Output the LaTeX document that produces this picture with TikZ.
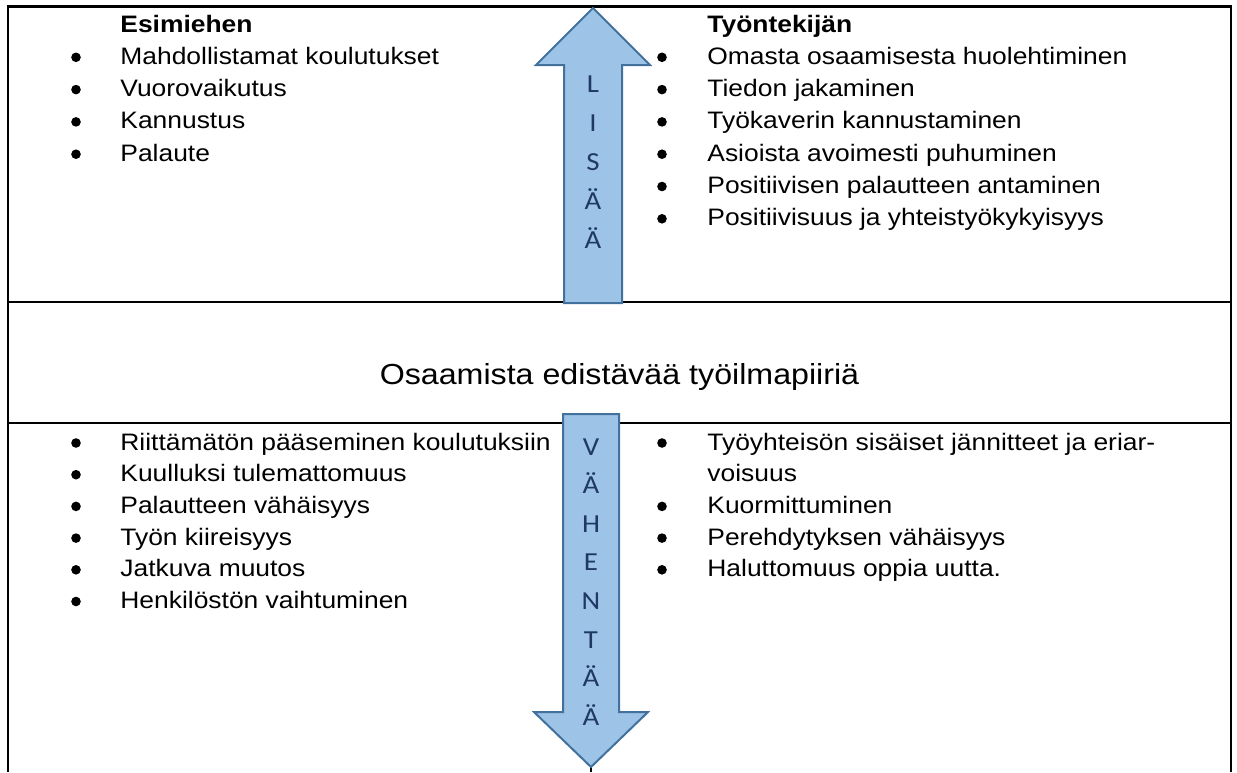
\documentclass[tikz,border=0pt]{standalone}
\usepackage{fontspec}
\setmainfont{Liberation Sans}[FakeStretch=1.11]
\newfontfamily\arrowfont{Carlito}[FakeStretch=1.11]
\usetikzlibrary{positioning}
\definecolor{arrowfill}{HTML}{9DC3E6}
\definecolor{arrowline}{HTML}{41719C}
\definecolor{lettercol}{HTML}{1F3864}
\tikzset{
  item/.style={anchor=base west, inner sep=0pt, font=\fontsize{11.9}{14}\selectfont},
  head/.style={item, font=\fontsize{11.9}{14}\selectfont\bfseries},
  bul/.style={circle, fill=black, inner sep=0pt, minimum size=4.8pt},
  letter/.style={anchor=base, inner sep=0pt, text=lettercol, font=\arrowfont\fontsize{13}{15}\selectfont},
  bigarrow/.style={fill=arrowfill, draw=arrowline, line width=1pt, line join=miter},
  rule/.style={line width=1.2pt}
}
\begin{document}
\begin{tikzpicture}[x=0.5pt,y=-0.5pt]
  \pgfmathsetmacro{\rowtop}{32.3}
  \pgfmathsetmacro{\rowbot}{31.7}
  \useasboundingbox (0,0) rectangle (1237,772);

  \draw[rule] (8,772) -- (8,6.5) -- (1231,6.5) -- (1231,772);
  \draw[rule] (8,302) -- (1231,302);
  \draw[rule] (8,423) -- (1231,423);
  \draw[rule] (591,423) -- (591,772);

  \node[head] (esim) at (120,32) {Esimiehen};
  \foreach \txt [count=\i] in {Mahdollistamat koulutukset, Vuorovaikutus, Kannustus, Palaute} {
    \node[item] (esim\i) at (120,32+\rowtop*\i) {\txt};
    \node[bul] (besim\i) at (76,25+\rowtop*\i) {};
  }

  \node[head] (tyon) at (707,32) {Työntekijän};
  \foreach \txt [count=\i] in {Omasta osaamisesta huolehtiminen, Tiedon jakaminen,
      Työkaverin kannustaminen, Asioista avoimesti puhuminen,
      Positiivisen palautteen antaminen, Positiivisuus ja yhteistyökykyisyys} {
    \node[item] (tyon\i) at (707,32+\rowtop*\i) {\txt};
    \node[bul] (btyon\i) at (662,25+\rowtop*\i) {};
  }

  \node[anchor=base, inner sep=0pt, font=\fontsize{14.5}{18}\selectfont] (ilma) at (619.5,384) {Osaamista edistävää työilmapiiriä};

  \foreach \txt [count=\i] in {Riittämätön pääseminen koulutuksiin, Kuulluksi tulemattomuus,
      Palautteen vähäisyys, Työn kiireisyys, Jatkuva muutos, Henkilöstön vaihtuminen} {
    \node[item] (este\i) at (120,450+\rowbot*\i-\rowbot) {\txt};
    \node[bul] (beste\i) at (76,443+\rowbot*\i-\rowbot) {};
  }

  \node[item] (yht1) at (707,450) {Työyhteisön sisäiset jännitteet ja eriar-};
  \node[item] (yht1b) at (707,450+\rowbot) {voisuus};
  \node[bul] (byht1) at (662,443) {};
  \foreach \txt [count=\i from 2] in {Kuormittuminen, Perehdytyksen vähäisyys, Haluttomuus oppia uutta.} {
    \node[item] (yht\i) at (707,450+\rowbot*\i) {\txt};
    \node[bul] (byht\i) at (662,443+\rowbot*\i) {};
  }

  \filldraw[bigarrow] (593,8) -- (650,65) -- (622,65) -- (622,303) -- (564,303) -- (564,65) -- (536,65) -- cycle;
  \foreach \ch [count=\i] in {L,I,S,Ä,Ä}
    \node[letter] (lisaa\i) at (593,92+39*\i-39) {\ch};

  \filldraw[bigarrow] (563,414) -- (619,414) -- (619,712) -- (648,712) -- (591,767) -- (534,712) -- (563,712) -- cycle;
  \foreach \ch [count=\i] in {V,Ä,H,E,N,T,Ä,Ä}
    \node[letter] (vahentaa\i) at (591,455+38.6*\i-38.6) {\ch};
\end{tikzpicture}
\end{document}
